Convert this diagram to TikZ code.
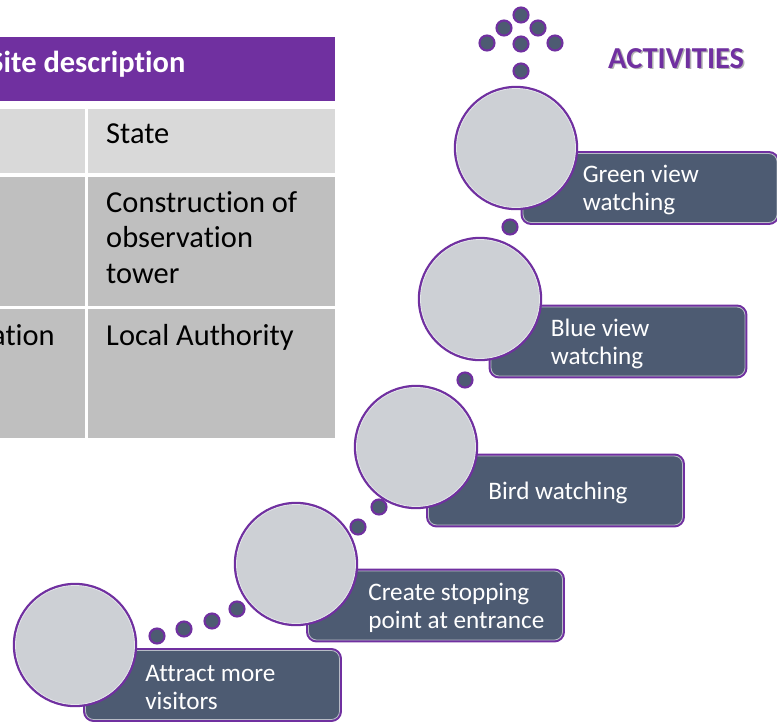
\documentclass[tikz,border=0pt]{standalone}
\usepackage{fontspec}
\setmainfont{Carlito}[Ligatures=NoCommon]
\definecolor{hdrpurple}{HTML}{7030A0}
\definecolor{slate}{HTML}{4D5B72}
\definecolor{discgray}{HTML}{CDD0D5}
\definecolor{rowlight}{HTML}{D9D9D9}
\definecolor{rowdark}{HTML}{BFBFBF}
\definecolor{rimlight}{HTML}{E4E6EA}
\tikzset{
  disc/.style={circle, fill=discgray, draw=rimlight, line width=0.7pt, preaction={draw=hdrpurple, line width=4.6pt}, minimum size=3.57cm, inner sep=0pt},
  actbox/.style={rectangle, rounded corners=7pt, fill=slate, draw=rimlight!70!slate, line width=0.7pt, preaction={draw=hdrpurple, line width=4.2pt}, minimum width=7.62cm, minimum height=2.07cm, inner sep=0pt},
  acttxt/.style={font=\fontsize{21.5pt}{24pt}\selectfont, text=white, align=left, anchor=west, inner sep=0pt},
  pdot/.style={circle, fill=slate, draw=hdrpurple, line width=1.8pt, minimum size=0.45cm, inner sep=0pt},
  celltxt/.style={font=\fontsize{26pt}{30pt}\selectfont, text=black, align=left, anchor=base west, inner sep=0pt},
  hdrtxt/.style={font=\fontsize{26pt}{30pt}\selectfont\bfseries, text=white, anchor=base west, inner sep=0pt},
  ttl/.style={font=\fontsize{26pt}{30pt}\selectfont\bfseries, text=hdrpurple, anchor=base west, inner sep=0pt},
  ttlshadow/.style={ttl, text=black!30},
}

\begin{document}
\begin{tikzpicture}[x=0.03cm,y=-0.03cm]
  \useasboundingbox (0,0) rectangle (777,721);
  \fill[hdrpurple] (0,37) rectangle (335,101);
  \node[hdrtxt] (hdr) at (-11,72) {Site description};
  \fill[rowlight] (0,109) rectangle (85,173);
  \fill[rowlight] (88,109) rectangle (335,173);
  \fill[rowdark] (0,177) rectangle (85,306);
  \fill[rowdark] (88,177) rectangle (335,306);
  \fill[rowdark] (0,309) rectangle (85,438);
  \fill[rowdark] (88,309) rectangle (335,438);
  \node[celltxt] (state) at (106,143) {State};
  \node[celltxt] (tower) at (106,283) {Construction of\\observation\\tower};
  \node[celltxt, anchor=base east] (loc) at (55,345) {ation};
  \node[celltxt] (auth) at (106,345) {Local Authority};
  \node[ttlshadow] (ttlsh) at (609.5,69.5) {ACTIVITIES};
  \node[ttl] (ttl) at (608,68) {ACTIVITIES};
  \node[actbox] (b1) at (650,188) {};
  \node[actbox] (b2) at (618,341.5) {};
  \node[actbox] (b3) at (555.5,490.5) {};
  \node[actbox] (b4) at (435.5,605.5) {};
  \node[actbox] (b5) at (212.5,685) {};
  \node[acttxt] (t1) at ([xshift=1.8cm,yshift=-2pt]b1.west) {Green view\\watching};
  \node[acttxt] (t2) at ([xshift=1.8cm,yshift=-2pt]b2.west) {Blue view\\watching};
  \node[acttxt] (t3) at ([xshift=1.8cm,yshift=-2pt]b3.west) {Bird watching};
  \node[acttxt] (t4) at ([xshift=1.8cm,yshift=-2pt]b4.west) {Create stopping\\point at entrance};
  \node[acttxt] (t5) at ([xshift=1.8cm,yshift=-2pt]b5.west) {Attract more\\visitors};
  \node[disc] (c1) at (516,148) {};
  \node[disc] (c2) at (480,299) {};
  \node[disc] (c3) at (416,447) {};
  \node[disc] (c4) at (296,564) {};
  \node[disc] (c5) at (75,645) {};
  \node[pdot] (a1) at (521,15) {};
  \node[pdot] (a2) at (504,28) {};
  \node[pdot] (a3) at (538,28) {};
  \node[pdot] (a4) at (487,43) {};
  \node[pdot] (a5) at (521,44) {};
  \node[pdot] (a6) at (555,43) {};
  \node[pdot] (a7) at (521,71) {};
  \node[pdot] (d1) at (510,227) {};
  \node[pdot] (d2) at (465,380) {};
  \node[pdot] (d3) at (379,507) {};
  \node[pdot] (d4) at (358,527) {};
  \node[pdot] (d5) at (237,609) {};
  \node[pdot] (d6) at (212,621) {};
  \node[pdot] (d7) at (184,629) {};
  \node[pdot] (d8) at (157,636) {};
\end{tikzpicture}
\end{document}
